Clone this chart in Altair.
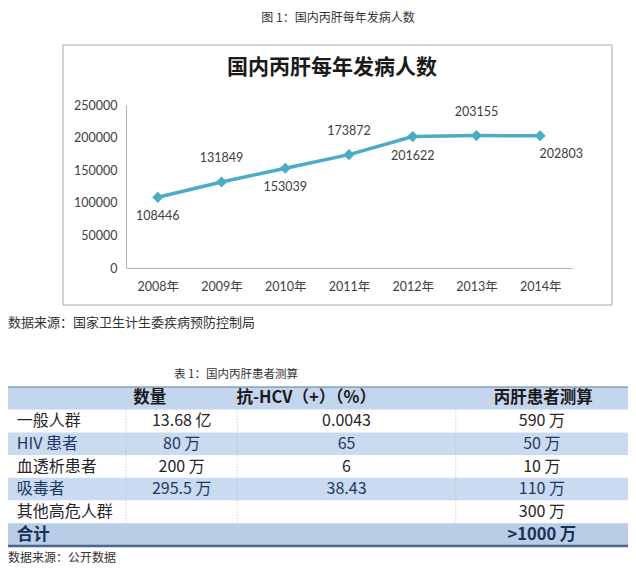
import altair as alt
import pandas as pd

# ---------------- data ----------------
YEARS = ["2008年", "2009年", "2010年", "2011年", "2012年", "2013年", "2014年"]
CASES = [108446, 131849, 153039, 173872, 201622, 203155, 202803]
ABOVE_YEARS = ["2009年", "2011年", "2013年"]
BELOW_YEARS = ["2008年", "2010年", "2012年"]
RIGHT_YEARS = ["2014年"]
Y_TICKS = [0, 50000, 100000, 150000, 200000, 250000]

TABLE_HEADERS = ["", "数量", "抗-HCV（+）（%）", "丙肝患者测算"]
GROUPS = ["一般人群", "HIV 患者", "血透析患者", "吸毒者", "其他高危人群", "合计"]
COUNTS = ["13.68 亿", "80 万", "200 万", "295.5 万", "", ""]
ANTI_HCV = ["0.0043", "65", "6", "38.43", "", ""]
ESTIMATES = ["590 万", "50 万", "10 万", "110 万", "300 万", ">1000 万"]

FIG_CAPTION = "图 1：国内丙肝每年发病人数"
CHART_TITLE = "国内丙肝每年发病人数"
FIG_SOURCE = "数据来源：国家卫生计生委疾病预防控制局"
TABLE_CAPTION = "表 1：国内丙肝患者测算"
TABLE_SOURCE = "数据来源：公开数据"

# ---------------- layout / style ----------------
W, H = 620, 558
PLOT_X = [118, 564]
PLOT_Y = [260, 97]
TABLE_X_DOMAIN = [0, 630]
TABLE_X_RANGE = [0, 620]
TABLE_Y_RANGE = [379, 538]
COL_EDGES = [0, 120, 233, 455, 630]
HEADER_X = [None, 144, 303, 544]
LABEL_X = 9
TEAL = "#4BACC6"
LATIN = "Lato, Noto Sans CJK SC"
CJK = "Noto Sans CJK SC"

one = pd.DataFrame({"k": [0]})


def note(text, x, y, size, weight="normal", align="center", color="#333333", font=CJK):
    return alt.Chart(pd.DataFrame({"t": [text]})).mark_text(
        font=font, fontSize=size, fontWeight=weight, align=align,
        baseline="middle", color=color
    ).encode(text="t:N", x=alt.value(x), y=alt.value(y))


# ---------------- line chart ----------------
line_df = pd.DataFrame({"year": YEARS, "cases": CASES})
xs = alt.Scale(domain=YEARS, range=PLOT_X)
ys = alt.Scale(domain=[0, 250000], range=PLOT_Y)
x_plain = alt.X("year:N", sort=YEARS, scale=xs, axis=None)
y_plain = alt.Y("cases:Q", scale=ys, axis=None)

x_axis = alt.X("year:N", sort=YEARS, scale=xs, axis=alt.Axis(
    orient="bottom", offset=PLOT_Y[0] - H, title=None, ticks=False, grid=False,
    labelAngle=0, labelPadding=12, labelFont=LATIN, labelFontSize=12.5,
    labelColor="#404040", domainColor="#B0B0B0", domainWidth=1, zindex=1))
y_axis = alt.Y("cases:Q", scale=ys, axis=alt.Axis(
    orient="left", offset=-PLOT_X[0], values=Y_TICKS, format="d", title=None,
    ticks=False, grid=False, labelPadding=9, labelFont=LATIN, labelFontSize=12.5,
    labelColor="#404040", domainColor="#B0B0B0", domainWidth=1, zindex=1))

frame = alt.Chart(one).mark_rect(fillOpacity=0, stroke="#A6A6A6", strokeWidth=1).encode(
    x=alt.value(55), x2=alt.value(604), y=alt.value(37), y2=alt.value(297))

base = alt.Chart(line_df)
line = base.mark_line(color=TEAL, strokeWidth=3.5).encode(x=x_axis, y=y_axis)
pts = base.mark_point(shape="diamond", filled=True, size=125, color=TEAL, opacity=1).encode(
    x=x_plain, y=y_plain)


def labels(years, dx, dy):
    return base.transform_filter(
        alt.FieldOneOfPredicate(field="year", oneOf=years)
    ).mark_text(font=LATIN, fontSize=12.5, color="#404040", dx=dx, dy=dy,
                baseline="middle").encode(
        x=x_plain, y=y_plain, text=alt.Text("cases:Q", format="d"))


lab_above = labels(ABOVE_YEARS, 0, -24)
lab_below = labels(BELOW_YEARS, 0, 19)
lab_right = labels(RIGHT_YEARS, 21, 18)

# ---------------- table ----------------
txs = alt.Scale(domain=TABLE_X_DOMAIN, range=TABLE_X_RANGE)
tys = alt.Scale(domain=[0, 7], range=TABLE_Y_RANGE)

n_rows = len(GROUPS) + 1
shades = []
for r in range(n_rows):
    if r == 0:
        shades.append("header")
    elif r == n_rows - 1:
        shades.append("total")
    elif r % 2 == 0:
        shades.append("blue")
    else:
        shades.append("white")
rows_df = pd.DataFrame({"r": list(range(n_rows)), "r2": list(range(1, n_rows + 1)),
                        "shade": shades})

row_rects = alt.Chart(rows_df).mark_rect().encode(
    x=alt.X(datum=TABLE_X_DOMAIN[0], scale=txs, axis=None),
    x2=alt.X2(datum=TABLE_X_DOMAIN[1]),
    y=alt.Y("r:Q", scale=tys, axis=None),
    y2="r2:Q",
    fill=alt.Fill("shade:N", legend=None, scale=alt.Scale(
        domain=["header", "white", "blue", "total"],
        range=["#C4D6ED", "#FFFFFF", "#C9DAF1", "#B9CDE6"])))

top_border = alt.Chart(one).mark_rule(color="#5B7BA6", strokeWidth=1.2).encode(
    x=alt.X(datum=TABLE_X_DOMAIN[0], scale=txs, axis=None),
    x2=alt.X2(datum=TABLE_X_DOMAIN[1]),
    y=alt.Y(datum=0, scale=tys, axis=None))
bottom_border = alt.Chart(one).mark_rule(color="#4A6590", strokeWidth=2.5).encode(
    x=alt.X(datum=TABLE_X_DOMAIN[0], scale=txs, axis=None),
    x2=alt.X2(datum=TABLE_X_DOMAIN[1]),
    y=alt.Y(datum=7, scale=tys, axis=None))

sep_df = pd.DataFrame({"x": COL_EDGES[1:-1]})
seps = alt.Chart(sep_df).mark_rule(color="#BBBBBB", strokeWidth=1, strokeDash=[1, 2]).encode(
    x=alt.X("x:Q", scale=txs, axis=None),
    y=alt.Y(datum=1, scale=tys, axis=None),
    y2=alt.Y2(datum=6))

head_df = pd.DataFrame({"t": TABLE_HEADERS[1:], "x": HEADER_X[1:], "r": [0.5] * 3})
head_txt = alt.Chart(head_df).mark_text(
    font=CJK, fontSize=16.5, fontWeight="bold", color="#1A1A1A", baseline="middle"
).encode(x=alt.X("x:Q", scale=txs, axis=None), y=alt.Y("r:Q", scale=tys, axis=None),
         text="t:N")

centers = [(COL_EDGES[j] + COL_EDGES[j + 1]) / 2 for j in range(1, 4)]
label_rows, value_rows = [], []
for i, (g, c, a, e) in enumerate(zip(GROUPS, COUNTS, ANTI_HCV, ESTIMATES)):
    r = i + 1
    kind = shades[r]
    label_rows.append({"t": g, "x": LABEL_X, "r": r + 0.5, "kind": kind})
    for j, v in enumerate([c, a, e]):
        if v:
            value_rows.append({"t": v, "x": centers[j], "r": r + 0.5, "kind": kind})
lab_df = pd.DataFrame(label_rows)
val_df = pd.DataFrame(value_rows)

txt_color = alt.Color("kind:N", legend=None, scale=alt.Scale(
    domain=["white", "blue", "total"], range=["#262626", "#1F3864", "#1A2F5A"]))

label_txt = alt.Chart(lab_df).transform_filter("datum.kind != 'total'").mark_text(
    font=CJK, fontSize=16, align="left", baseline="middle"
).encode(x=alt.X("x:Q", scale=txs, axis=None), y=alt.Y("r:Q", scale=tys, axis=None),
         text="t:N", color=txt_color)
label_total = alt.Chart(lab_df).transform_filter("datum.kind == 'total'").mark_text(
    font=CJK, fontSize=16.5, fontWeight="bold", align="left", baseline="middle",
    color="#1A2F5A"
).encode(x=alt.X("x:Q", scale=txs, axis=None), y=alt.Y("r:Q", scale=tys, axis=None),
         text="t:N")
value_txt = alt.Chart(val_df).transform_filter("datum.kind != 'total'").mark_text(
    font=CJK, fontSize=16, align="center", baseline="middle"
).encode(x=alt.X("x:Q", scale=txs, axis=None), y=alt.Y("r:Q", scale=tys, axis=None),
         text="t:N", color=txt_color)
value_total = alt.Chart(val_df).transform_filter("datum.kind == 'total'").mark_text(
    font=CJK, fontSize=16.5, fontWeight="bold", align="center", baseline="middle",
    color="#1A2F5A"
).encode(x=alt.X("x:Q", scale=txs, axis=None), y=alt.Y("r:Q", scale=tys, axis=None),
         text="t:N")

# ---------------- assemble ----------------
chart = alt.layer(
    frame,
    note(FIG_CAPTION, 330, 10, 12),
    note(CHART_TITLE, 324, 60, 21, weight="bold", color="#1A1A1A"),
    line, pts, lab_above, lab_below, lab_right,
    note(FIG_SOURCE, 0, 315, 13, align="left"),
    note(TABLE_CAPTION, 228, 367, 11.5),
    row_rects, top_border, bottom_border, seps,
    head_txt, label_txt, label_total, value_txt, value_total,
    note(TABLE_SOURCE, 0, 550, 12, align="left"),
).resolve_scale(
    x="independent", y="independent", color="independent", fill="independent"
).properties(
    width=W, height=H, autosize=alt.AutoSizeParams(type="none"), padding=0,
    background="white"
).configure_view(stroke=None)

chart.save("out.html", embed_options={"renderer": "svg", "actions": False})
